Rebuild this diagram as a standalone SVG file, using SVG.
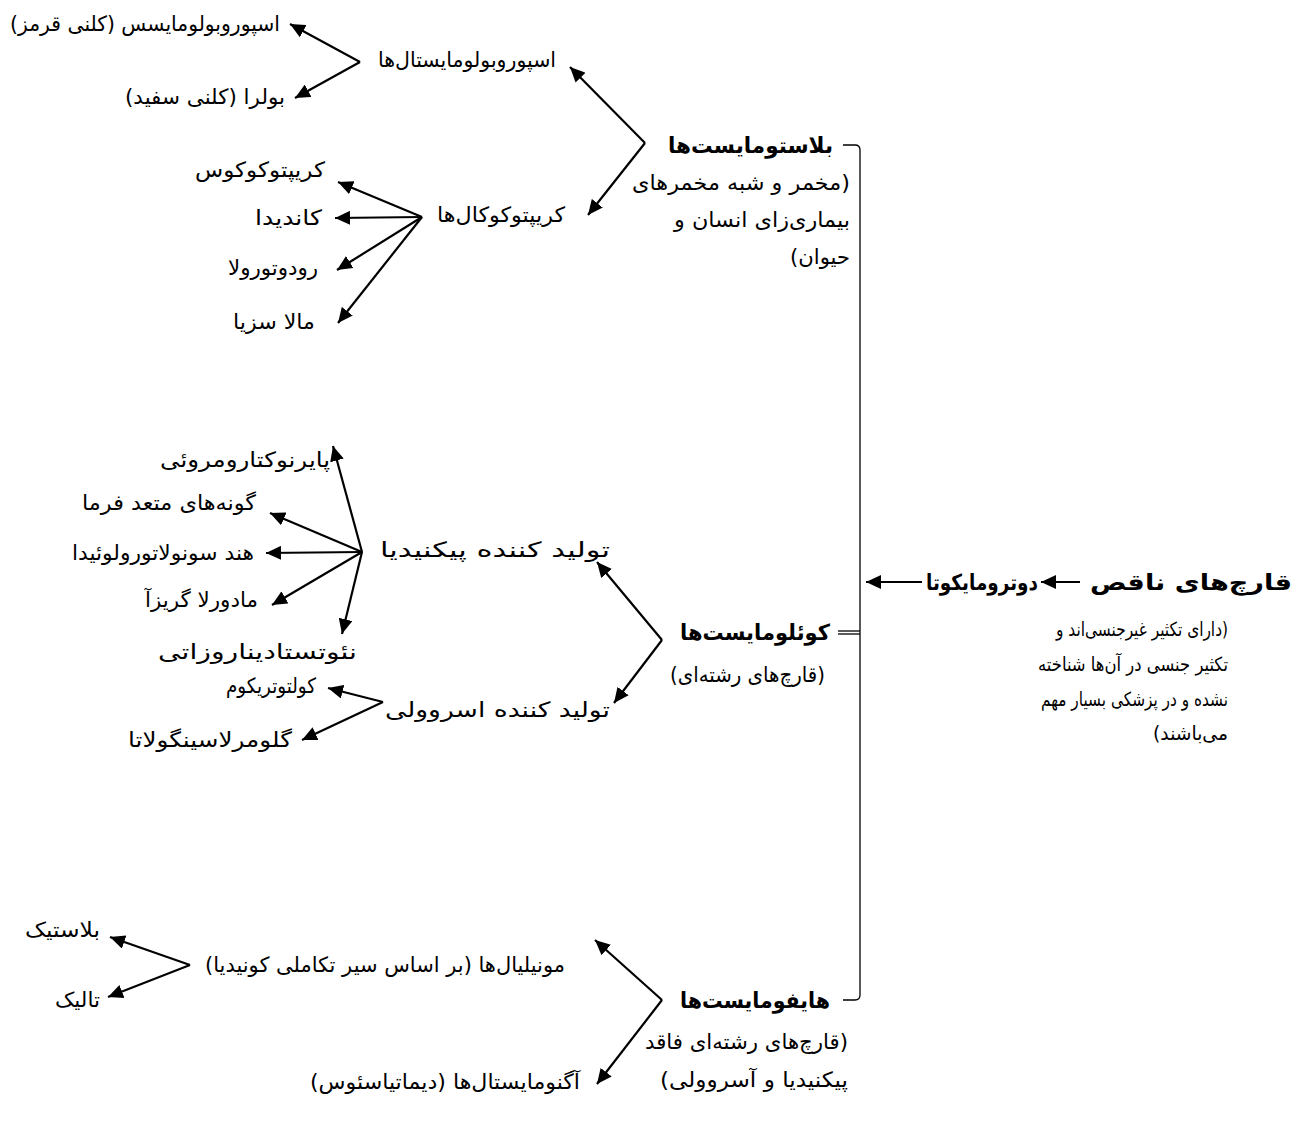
<svg xmlns="http://www.w3.org/2000/svg" width="1299" height="1131" viewBox="0 0 1299 1131">
<style>
  text { font-family: "DejaVu Sans", sans-serif; font-size: 21px; fill: #000; direction: rtl; text-anchor: start; }
  .b { font-weight: bold; font-size: 22px; }
  .s { font-size: 19.5px; }
  .a { stroke: #000; stroke-width: 2.2; fill: none; marker-end: url(#ah); }
  .br { stroke: #000; stroke-width: 1.3; fill: none; }
</style>
<defs>
  <marker id="ah" markerUnits="userSpaceOnUse" markerWidth="16" markerHeight="14" refX="15" refY="7" orient="auto">
    <path d="M0,0 L15,7 L0,14 Z" fill="#000"/>
  </marker>
</defs>
<rect width="1299" height="1131" fill="#fff"/>

<g id="connectors">
  <path class="br" d="M843,145 H855 Q860,145 860,150 V995 Q860,1000 855,1000 H843"/>
  <line class="br" x1="838" y1="631" x2="860" y2="631"/>
  <line class="br" x1="838" y1="634" x2="860" y2="634"/>
  <line class="a" x1="922" y1="582" x2="866" y2="582"/>
  <line class="a" x1="1080" y1="582" x2="1041" y2="582"/>
  <line class="a" x1="645" y1="143" x2="570" y2="67"/>
  <line class="a" x1="645" y1="143" x2="588" y2="215"/>
  <line class="a" x1="360" y1="62" x2="290" y2="24"/>
  <line class="a" x1="360" y1="62" x2="295" y2="98"/>
  <line class="a" x1="422" y1="217" x2="338" y2="182"/>
  <line class="a" x1="422" y1="217" x2="335" y2="218"/>
  <line class="a" x1="422" y1="217" x2="337" y2="270"/>
  <line class="a" x1="422" y1="217" x2="338" y2="323"/>
  <line class="a" x1="662" y1="640" x2="597" y2="562"/>
  <line class="a" x1="662" y1="640" x2="614" y2="703"/>
  <line class="a" x1="362" y1="552" x2="333" y2="446"/>
  <line class="a" x1="362" y1="552" x2="270" y2="513"/>
  <line class="a" x1="362" y1="552" x2="266" y2="553"/>
  <line class="a" x1="362" y1="552" x2="272" y2="605"/>
  <line class="a" x1="362" y1="552" x2="342" y2="634"/>
  <line class="a" x1="383" y1="702" x2="328" y2="688"/>
  <line class="a" x1="383" y1="702" x2="302" y2="740"/>
  <line class="a" x1="662" y1="1000" x2="595" y2="940"/>
  <line class="a" x1="662" y1="1000" x2="597" y2="1084"/>
  <line class="a" x1="190" y1="965" x2="110" y2="937"/>
  <line class="a" x1="190" y1="965" x2="108" y2="997"/>
</g>

<g id="root"><text class="b" x="1292" y="590" textLength="202" lengthAdjust="spacingAndGlyphs">قارچ‌های ناقص</text></g>
<g id="deutero">
  <text class="b" x="1038" y="590" textLength="112" lengthAdjust="spacingAndGlyphs">دوترومایکوتا</text>
  <text class="s" x="1228" y="636" textLength="172" lengthAdjust="spacingAndGlyphs">(دارای تکثیر غیرجنسی‌اند و</text>
  <text class="s" x="1228" y="671" textLength="190" lengthAdjust="spacingAndGlyphs">تکثیر جنسی در آن‌ها شناخته</text>
  <text class="s" x="1228" y="706" textLength="187" lengthAdjust="spacingAndGlyphs">نشده و در پزشکی بسیار مهم</text>
  <text class="s" x="1228" y="740" textLength="75" lengthAdjust="spacingAndGlyphs">می‌باشند)</text>
</g>

<g id="blasto">
  <text class="b" x="833" y="153" textLength="165" lengthAdjust="spacingAndGlyphs">بلاستومایست‌ها</text>
  <text x="850" y="190" textLength="218" lengthAdjust="spacingAndGlyphs">(مخمر و شبه مخمرهای</text>
  <text x="850" y="227" textLength="176" lengthAdjust="spacingAndGlyphs">بیماری‌زای انسان و</text>
  <text x="850" y="264" textLength="60" lengthAdjust="spacingAndGlyphs">حیوان)</text>
</g>
<g id="sporobolo"><text x="556" y="67" textLength="178" lengthAdjust="spacingAndGlyphs">اسپوروبولومایستال‌ها</text></g>
<g id="sporobolomyces"><text x="280" y="31" textLength="270" lengthAdjust="spacingAndGlyphs">اسپوروبولومایسس (کلنی قرمز)</text></g>
<g id="bullera"><text x="285" y="104" textLength="160" lengthAdjust="spacingAndGlyphs">بولرا (کلنی سفید)</text></g>
<g id="crypto"><text x="565" y="222" textLength="128" lengthAdjust="spacingAndGlyphs">کریپتوکوکال‌ها</text></g>
<g id="cryptococcus"><text x="325" y="177" textLength="130" lengthAdjust="spacingAndGlyphs">کریپتوکوکوس</text></g>
<g id="candida"><text x="322" y="225" textLength="67" lengthAdjust="spacingAndGlyphs">کاندیدا</text></g>
<g id="rhodotorula"><text x="318" y="275" textLength="90" lengthAdjust="spacingAndGlyphs">رودوتورولا</text></g>
<g id="malassezia"><text x="315" y="329" textLength="82" lengthAdjust="spacingAndGlyphs">مالا سزیا</text></g>

<g id="coelo">
  <text class="b" x="830" y="640" textLength="150" lengthAdjust="spacingAndGlyphs">کوئلومایست‌ها</text>
  <text x="825" y="682" textLength="155" lengthAdjust="spacingAndGlyphs">(قارچ‌های رشته‌ای)</text>
</g>
<g id="pycnidia"><text x="610" y="557" textLength="230" lengthAdjust="spacingAndGlyphs">تولید کننده پیکنیدیا</text></g>
<g id="pyreno"><text x="330" y="467" textLength="170" lengthAdjust="spacingAndGlyphs">پایرنوکتارومروئی</text></g>
<g id="phoma"><text x="256" y="510" textLength="174" lengthAdjust="spacingAndGlyphs">گونه‌های متعد فرما</text></g>
<g id="hendersonula"><text x="254" y="560" textLength="182" lengthAdjust="spacingAndGlyphs">هند سونولاتورولوئیدا</text></g>
<g id="madurella"><text x="258" y="607" textLength="113" lengthAdjust="spacingAndGlyphs">مادورلا گریزآ</text></g>
<g id="neoscytalidium"><text x="357" y="659" textLength="199" lengthAdjust="spacingAndGlyphs">نئوتستادیناروزاتی</text></g>
<g id="acervuli"><text x="610" y="717" textLength="225" lengthAdjust="spacingAndGlyphs">تولید کننده اسروولی</text></g>
<g id="colletotrichum"><text x="316" y="693" textLength="90" lengthAdjust="spacingAndGlyphs">کولتوتریکوم</text></g>
<g id="glomerella"><text x="292" y="747" textLength="164" lengthAdjust="spacingAndGlyphs">گلومرلاسینگولاتا</text></g>

<g id="hypho">
  <text class="b" x="830" y="1008" textLength="150" lengthAdjust="spacingAndGlyphs">هایفومایست‌ها</text>
  <text x="848" y="1049" textLength="203" lengthAdjust="spacingAndGlyphs">(قارچ‌های رشته‌ای فاقد</text>
  <text x="848" y="1087" textLength="188" lengthAdjust="spacingAndGlyphs">پیکنیدیا و آسروولی)</text>
</g>
<g id="moniliales"><text x="565" y="972" textLength="360" lengthAdjust="spacingAndGlyphs">مونیلیال‌ها (بر اساس سیر تکاملی کونیدیا)</text></g>
<g id="blastic"><text x="100" y="937" textLength="75" lengthAdjust="spacingAndGlyphs">بلاستیک</text></g>
<g id="thallic"><text x="100" y="1007" textLength="45" lengthAdjust="spacingAndGlyphs">تالیک</text></g>
<g id="agonomycetales"><text x="580" y="1089" textLength="270" lengthAdjust="spacingAndGlyphs">آگنومایستال‌ها (دیماتیاسئوس)</text></g>
</svg>
